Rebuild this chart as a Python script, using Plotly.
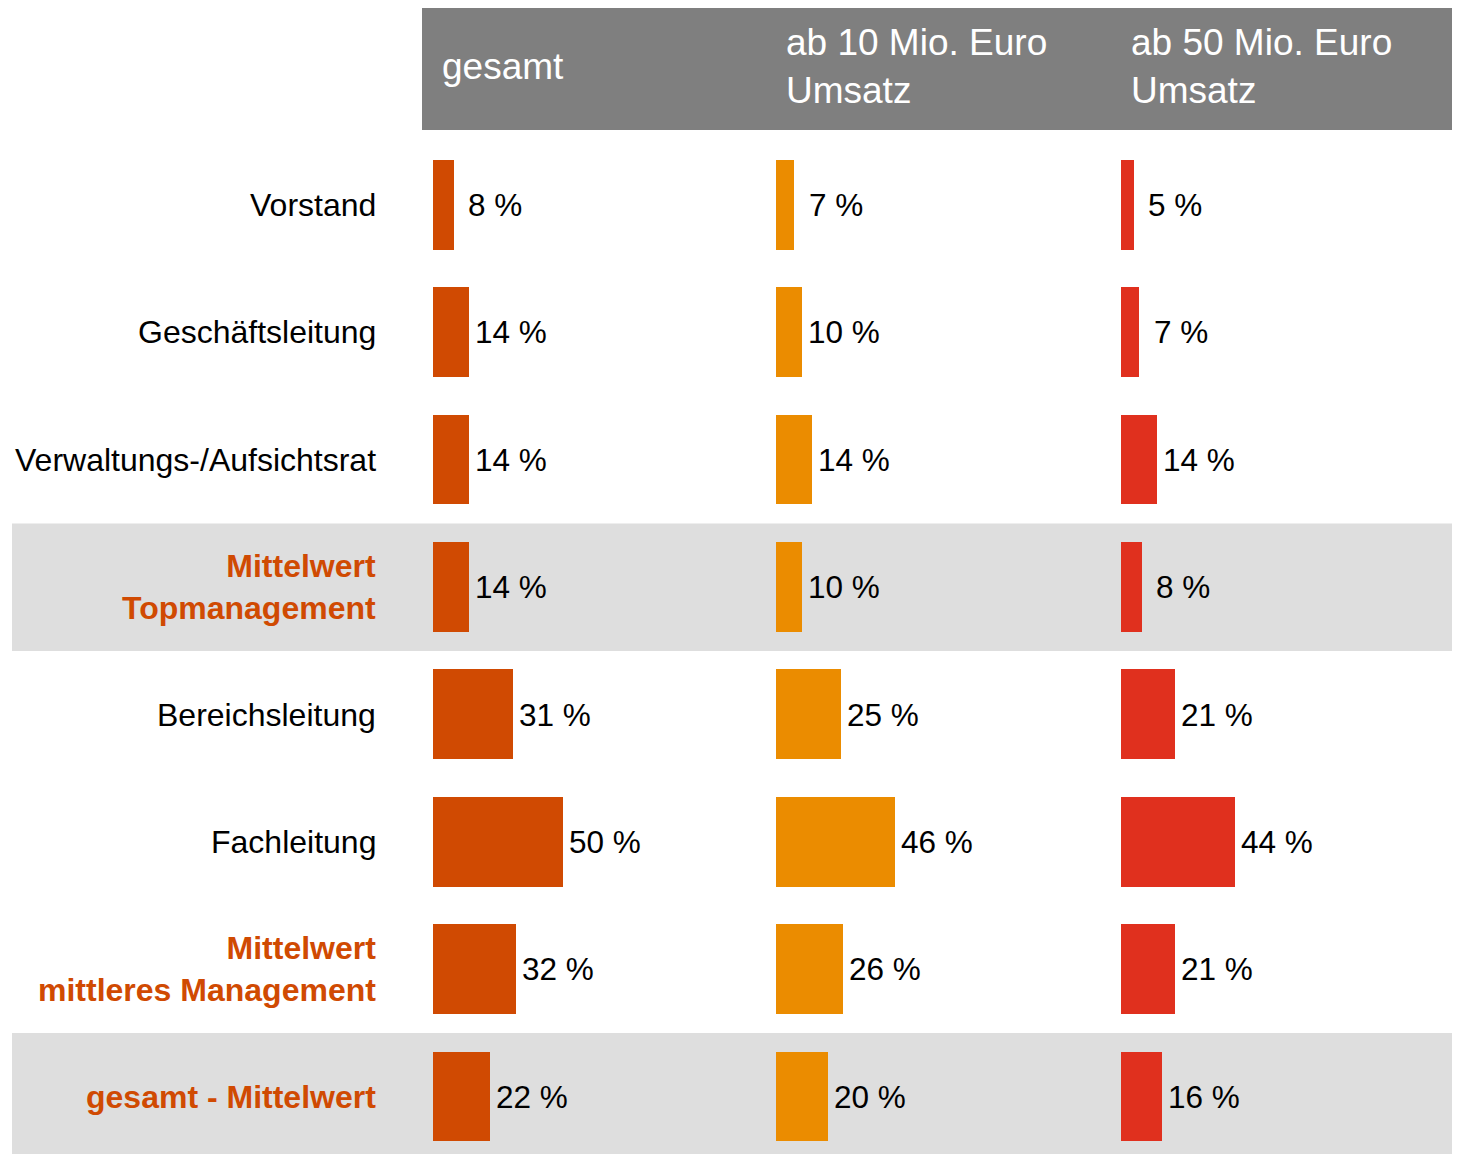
import plotly.graph_objects as go

# ---- data ----
row_labels = [
    "Vorstand",
    "Geschäftsleitung",
    "Verwaltungs-/Aufsichtsrat",
    "Mittelwert<br>Topmanagement",
    "Bereichsleitung",
    "Fachleitung",
    "Mittelwert<br>mittleres Management",
    "gesamt - Mittelwert",
]
highlight_rows = [False, False, False, True, False, False, True, True]
shaded_rows = [3, 7]
column_titles = ["gesamt", "ab 10 Mio. Euro<br>Umsatz", "ab 50 Mio. Euro<br>Umsatz"]
values_gesamt = [8, 14, 14, 14, 31, 50, 32, 22]
values_10mio = [7, 10, 14, 10, 25, 46, 26, 20]
values_50mio = [5, 7, 14, 8, 21, 44, 21, 16]
series = [values_gesamt, values_10mio, values_50mio]
colors = ["#D04A02", "#EB8C00", "#E0301E"]

# ---- layout geometry (pixels) ----
OFF = 8  # page body margin
W, H = 1460 - OFF, 1154 - OFF
px_per_pct = 2.59
col_starts = [433, 776, 1121]
col_ends = [770, 1115, 1456]
row0_center = 205
row_pitch = 127.4
FONT = "Liberation Sans, Arial, sans-serif"


def fx(px):
    return (px - OFF) / W


def fy(px):
    return 1 - (px - OFF) / H


y_pos = list(range(len(row_labels)))
fig = go.Figure()
annotations = []

for i, (vals, col) in enumerate(zip(series, colors)):
    axname = "x" if i == 0 else f"x{i+1}"
    fig.add_trace(go.Bar(
        x=vals, y=y_pos, orientation="h",
        marker=dict(color=col, line=dict(width=0)),
        width=0.705,
        xaxis=axname, yaxis="y",
        showlegend=False,
        hoverinfo="skip",
    ))
    for r, v in zip(y_pos, vals):
        annotations.append(dict(
            text=f"{v} %", xref=axname, yref="y", x=v, y=r,
            xanchor="left", yanchor="middle", showarrow=False,
            xshift=(6 if v >= 10 else 14.5) - 2,
            font=dict(size=31.5, color="#000000", family=FONT)))

n = len(row_labels)
bottom_val = (n - 1) + (H + OFF - (row0_center + row_pitch * (n - 1))) / row_pitch
top_px = row0_center - row_pitch / 2

layout = dict(
    width=W, height=H,
    margin=dict(l=0, r=0, t=0, b=0),
    paper_bgcolor="white", plot_bgcolor="rgba(0,0,0,0)",
    bargap=0,
    font=dict(family=FONT, size=31, color="#000000"),
    yaxis=dict(range=[bottom_val, -0.5], domain=[0, fy(top_px)], visible=False,
               fixedrange=True),
    shapes=[],
)
for i in range(3):
    key = "xaxis" if i == 0 else f"xaxis{i+1}"
    width_px = col_ends[i] - col_starts[i]
    layout[key] = dict(domain=[fx(col_starts[i]), min(1.0, fx(col_ends[i]))],
                       range=[0, width_px / px_per_pct], visible=False,
                       anchor="y", fixedrange=True)

# header band
layout["shapes"].append(dict(type="rect", xref="paper", yref="paper",
                             x0=fx(422), x1=fx(1456), y0=fy(130), y1=fy(3),
                             fillcolor="#7F7F7F", line=dict(width=0), layer="below"))
# shaded rows
for r in shaded_rows:
    layout["shapes"].append(dict(type="rect", xref="paper", yref="y",
                                 x0=fx(12), x1=fx(1457), y0=r - 0.5, y1=r + 0.5,
                                 fillcolor="#DEDEDE", line=dict(width=0), layer="below"))

# header titles
header_x = [440, 784, 1129]
for t, xp in zip(column_titles, header_x):
    annotations.append(dict(text=t, xref="paper", yref="paper",
                            x=fx(xp), y=fy(67), xanchor="left", yanchor="middle",
                            align="left", showarrow=False,
                            font=dict(size=37, color="white", family=FONT)))
# row labels
for r, (lab, hl) in enumerate(zip(row_labels, highlight_rows)):
    txt = f"<b>{lab}</b>" if hl else lab
    annotations.append(dict(text=txt, xref="paper", yref="y",
                            x=fx(378), y=r, xanchor="right", yanchor="middle",
                            align="right", showarrow=False,
                            font=dict(size=32, family=FONT,
                                      color="#D04A02" if hl else "#000000")))

layout["annotations"] = annotations
fig.update_layout(**layout)
fig.write_html("out.html")
